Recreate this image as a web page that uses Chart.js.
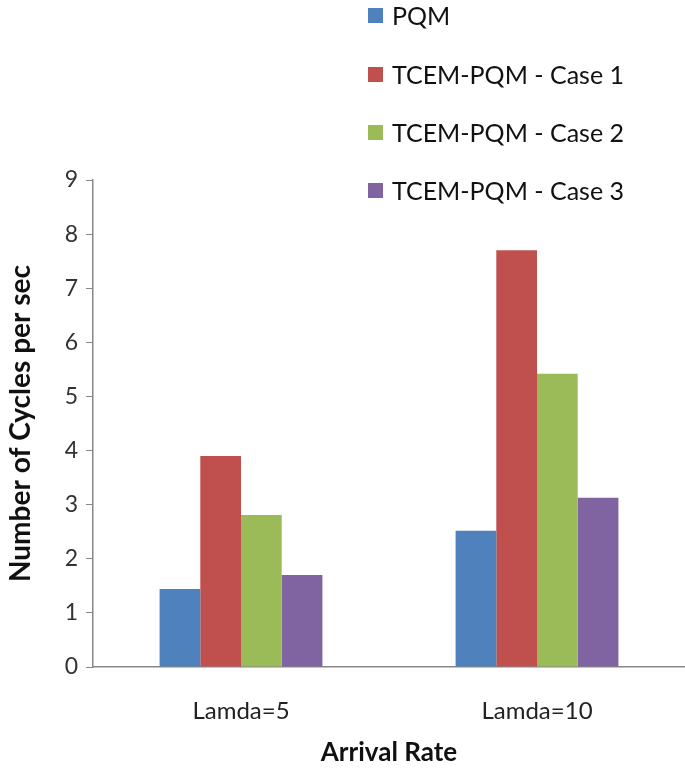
<!DOCTYPE html>
<html>
<head>
<meta charset="utf-8">
<script src="https://cdn.jsdelivr.net/npm/chart.js@4.4.1/dist/chart.umd.min.js"></script>
<style>
  html, body { margin: 0; padding: 0; background: #fff; }
  #wrap { position: relative; width: 685px; height: 768px; }
  #legend { position: absolute; left: 368px; top: 0; font-family: Lato, sans-serif; font-size: 25px; color: #111; }
  #legend .row { position: absolute; left: 0; white-space: nowrap; display: flex; align-items: center; }
  #legend .box { width: 15px; height: 15px; margin-right: 9px; }
</style>
</head>
<body>
<div id="wrap">
  <canvas id="chart" width="685" height="768"></canvas>
  <div id="legend"></div>
</div>
<script>
const categories = ['Lamda=5', 'Lamda=10'];
const seriesNames = ['PQM', 'TCEM-PQM - Case 1', 'TCEM-PQM - Case 2', 'TCEM-PQM - Case 3'];
const pqm = [1.44, 2.52];
const case1 = [3.9, 7.7];
const case2 = [2.81, 5.42];
const case3 = [1.7, 3.13];
const colors = ['#4F81BD', '#C0504D', '#9BBB59', '#8064A2'];
const yTicks = [0, 1, 2, 3, 4, 5, 6, 7, 8, 9];

const font = 'Lato, sans-serif';
const values = [pqm, case1, case2, case3];

const chart = new Chart(document.getElementById('chart'), {
  type: 'bar',
  data: {
    labels: categories,
    datasets: seriesNames.map((name, i) => ({
      label: name,
      data: values[i],
      backgroundColor: colors[i],
      borderWidth: 0,
      barPercentage: 1,
      categoryPercentage: 0.55,
    })),
  },
  options: {
    responsive: false,
    animation: false,
    layout: { padding: { top: 180, right: 0, left: 0, bottom: 0 } },
    plugins: {
      legend: { display: false },
      tooltip: { enabled: false },
    },
    scales: {
      x: {
        grid: { display: false },
        border: { display: true, color: '#888', width: 1.5 },
        ticks: { color: '#222', font: { family: font, size: 24 }, padding: 22 },
        title: { display: true, text: 'Arrival Rate', color: '#111', font: { family: font, size: 26, weight: 'bold' }, padding: { top: 10, bottom: 0 } },
        afterFit: (s) => { s.height = 101; },
      },
      y: {
        min: 0,
        max: 9,
        afterBuildTicks: (s) => { s.ticks = yTicks.map(v => ({ value: v })); },
        grid: { drawOnChartArea: false, drawTicks: true, tickLength: 7, color: '#888' },
        border: { display: true, color: '#888', width: 1.5 },
        ticks: { color: '#333', font: { family: font, size: 23 }, padding: 8 },
        title: { display: true, text: 'Number of Cycles per sec', color: '#111', font: { family: font, size: 28, weight: 'bold' }, padding: { bottom: 2 } },
        afterFit: (s) => { s.width = 93; },
      },
    },
  },
});

// legend as real text, stacked at top right
const legendTops = [15, 74, 132, 190];
const legendEl = document.getElementById('legend');
chart.data.datasets.forEach((ds, i) => {
  const row = document.createElement('div');
  row.className = 'row';
  row.style.top = (legendTops[i] - 15) + 'px';
  const box = document.createElement('span');
  box.className = 'box';
  box.style.background = ds.backgroundColor;
  const txt = document.createElement('span');
  txt.textContent = ds.label;
  row.appendChild(box);
  row.appendChild(txt);
  legendEl.appendChild(row);
});
</script>
</body>
</html>
